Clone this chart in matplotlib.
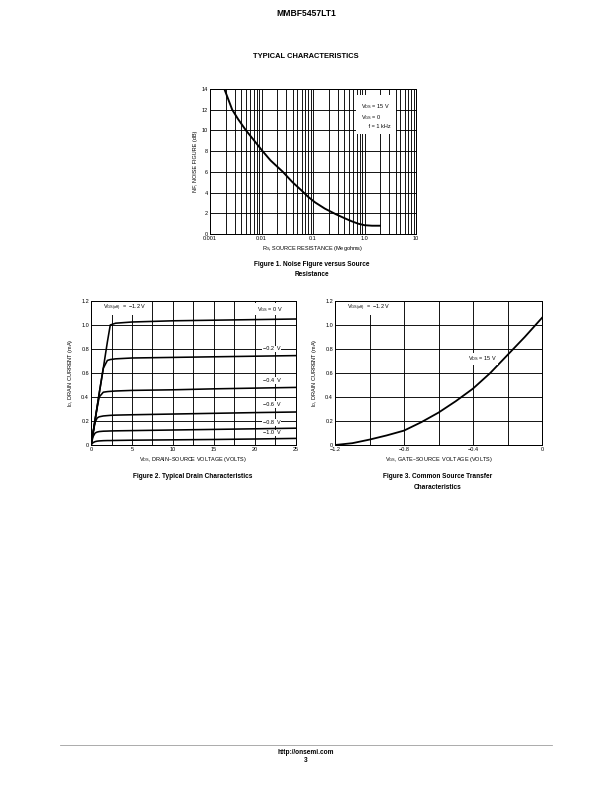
import numpy as np
import matplotlib.pyplot as plt
from matplotlib.ticker import MultipleLocator, FixedLocator, NullFormatter, FixedFormatter

plt.rcParams['font.family'] = ['Liberation Sans', 'DejaVu Sans']

# Figure 1 data: noise figure vs source resistance
rs = [0.0019, 0.0027, 0.0035, 0.005, 0.007, 0.0105, 0.015, 0.026, 0.04, 0.06,
      0.08, 0.11, 0.17, 0.28, 0.4, 0.55, 0.75, 1.0, 1.4, 2.0]
nf = [14.0, 12.0, 11.1, 10.0, 9.1, 8.0, 7.1, 6.0, 5.0, 4.2,
      3.6, 3.05, 2.45, 1.9, 1.55, 1.25, 1.0, 0.85, 0.8, 0.8]

# Figure 2 data: drain characteristics
vds = [0, 0.25, 0.5, 0.75, 1.0, 1.5, 2.0, 2.35, 3.0, 5, 10, 15, 20, 25]
id_curves = {
    '0':    [0, 0.10, 0.21, 0.32, 0.43, 0.64, 0.86, 1.00, 1.015, 1.025, 1.035, 1.04, 1.045, 1.05],
    '-0.2': [0, 0.10, 0.21, 0.32, 0.43, 0.64, 0.705, 0.712, 0.718, 0.725, 0.73, 0.735, 0.74, 0.745],
    '-0.4': [0, 0.10, 0.21, 0.31, 0.40, 0.44, 0.445, 0.447, 0.45, 0.455, 0.46, 0.468, 0.474, 0.48],
    '-0.6': [0, 0.10, 0.19, 0.225, 0.235, 0.242, 0.245, 0.247, 0.249, 0.252, 0.258, 0.264, 0.27, 0.275],
    '-0.8': [0, 0.07, 0.10, 0.108, 0.112, 0.115, 0.116, 0.117, 0.118, 0.12, 0.125, 0.13, 0.135, 0.14],
    '-1.0': [0, 0.02, 0.028, 0.032, 0.034, 0.036, 0.037, 0.037, 0.038, 0.04, 0.043, 0.046, 0.05, 0.055],
}
vgs_labels = ['\u22120.2  V', '\u22120.4  V', '\u22120.6  V', '\u22120.8  V', '\u22121.0  V']
vgs_label_y = [0.80, 0.535, 0.335, 0.19, 0.10]

# Figure 3 data: transfer characteristic
vgs = [-1.2, -1.1, -1.0, -0.9, -0.8, -0.7, -0.6, -0.5, -0.4, -0.3, -0.2, -0.1, 0.0]
id_t = [0.0, 0.015, 0.045, 0.08, 0.12, 0.19, 0.27, 0.365, 0.47, 0.6, 0.75, 0.9, 1.06]

fig = plt.figure(figsize=(8.5, 11), dpi=72)
W, H = 612, 792


def add_ax(l, t, r, b):
    return fig.add_axes([l / W, 1 - b / H, (r - l) / W, (b - t) / H])


def style(ax):
    for s in ax.spines.values():
        s.set_linewidth(1.0)
        s.set_color('black')
    ax.tick_params(which='both', length=0, labelsize=5.5, pad=2)
    ax.grid(True, which='both', color='black', lw=0.9)
    ax.set_axisbelow(True)


tx = dict(ha='center', va='center', fontweight='bold')
fig.text(306 / W, 1 - 14 / H, 'MMBF5457LT1', fontsize=8.5, **tx)
fig.text(306 / W, 1 - 57 / H, 'TYPICAL CHARACTERISTICS', fontsize=7.5, **tx)

# Figure 1
ax1 = add_ax(210, 89, 416, 234)
style(ax1)
ax1.set_xscale('log')
ax1.set_xlim(0.001, 10)
ax1.set_ylim(0, 14)
ax1.yaxis.set_major_locator(MultipleLocator(2))
ax1.xaxis.set_major_locator(FixedLocator([0.001, 0.01, 0.1, 1.0, 10]))
ax1.xaxis.set_major_formatter(FixedFormatter(['0.001', '0.01', '0.1', '1.0', '10']))
ax1.xaxis.set_minor_formatter(NullFormatter())
ax1.plot(rs, nf, color='black', lw=1.9)
ax1.text(0.735, 0.817, '$\\mathregular{V_{DS}}$ = 15 V\n$\\mathregular{V_{GS}}$ = 0\n     f = 1 kHz',
         transform=ax1.transAxes, ha='left', va='center', fontsize=5.5, linespacing=1.4,
         bbox=dict(fc='white', ec='none', pad=5))
ax1.set_xlabel('$\\mathregular{R_S}$, SOURCE RESISTANCE (Megohms)', fontsize=5.5, labelpad=3)
ax1.set_ylabel('NF, NOISE FIGURE (dB)', fontsize=5.5, labelpad=4)
fig.text(312 / W, 1 - 265 / H, 'Figure 1. Noise Figure versus Source', fontsize=6.5, **tx)
fig.text(312 / W, 1 - 275 / H, 'Resistance', fontsize=6.5, **tx)

# Figure 2
ax2 = add_ax(91, 301, 296, 445)
style(ax2)
ax2.set_xlim(0, 25)
ax2.set_ylim(0, 1.2)
ax2.xaxis.set_major_locator(FixedLocator([0, 5, 10, 15, 20, 25]))
ax2.xaxis.set_major_formatter(FixedFormatter(['0', '5', '10', '15', '20', '25']))
ax2.xaxis.set_minor_locator(FixedLocator([2.5, 7.5, 12.5, 17.5, 22.5]))
ax2.yaxis.set_major_locator(FixedLocator([0, 0.2, 0.4, 0.6, 0.8, 1.0, 1.2]))
ax2.yaxis.set_major_formatter(FixedFormatter(['0', '0.2', '0.4', '0.6', '0.8', '1.0', '1.2']))
for key, ids in id_curves.items():
    ax2.plot(vds, ids, color='black', lw=1.6)
for lab, yy in zip(vgs_labels, vgs_label_y):
    ax2.text(22.0, yy, lab, ha='center', va='center', fontsize=5.5,
             bbox=dict(fc='white', ec='none', pad=1))
ax2.text(1.5, 1.14, '$\\mathregular{V_{GS(off)}}$  =  \u22121.2 V', ha='left', va='center',
         fontsize=5.5, bbox=dict(fc='white', ec='none', pad=1.5))
ax2.text(21.8, 1.13, '$\\mathregular{V_{GS}}$ = 0 V', ha='center', va='center',
         fontsize=5.5, bbox=dict(fc='white', ec='none', pad=1.5))
ax2.set_xlabel('$\\mathregular{V_{DS}}$, DRAIN\u2013SOURCE VOLTAGE (VOLTS)', fontsize=5.5, labelpad=3)
ax2.set_ylabel('$\\mathregular{I_D}$, DRAIN CURRENT (mA)', fontsize=5.5, labelpad=6)
fig.text(193 / W, 1 - 476 / H, 'Figure 2. Typical Drain Characteristics', fontsize=6.5, **tx)

# Figure 3
ax3 = add_ax(335, 301, 542, 445)
style(ax3)
ax3.set_xlim(-1.2, 0)
ax3.set_ylim(0, 1.2)
ax3.xaxis.set_major_locator(FixedLocator([-1.2, -0.8, -0.4, 0]))
ax3.xaxis.set_major_formatter(FixedFormatter(['\u22121.2', '\u22120.8', '\u22120.4', '0']))
ax3.xaxis.set_minor_locator(FixedLocator([-1.0, -0.6, -0.2]))
ax3.yaxis.set_major_locator(FixedLocator([0, 0.2, 0.4, 0.6, 0.8, 1.0, 1.2]))
ax3.yaxis.set_major_formatter(FixedFormatter(['0', '0.2', '0.4', '0.6', '0.8', '1.0', '1.2']))
ax3.plot(vgs, id_t, color='black', lw=1.8)
ax3.text(-1.13, 1.14, '$\\mathregular{V_{GS(off)}}$  =  \u22121.2 V', ha='left', va='center',
         fontsize=5.5, bbox=dict(fc='white', ec='none', pad=1.5))
ax3.text(-0.43, 0.72, '$\\mathregular{V_{DS}}$ = 15 V', ha='left', va='center',
         fontsize=5.5, bbox=dict(fc='white', ec='none', pad=1.5))
ax3.set_xlabel('$\\mathregular{V_{GS}}$, GATE\u2013SOURCE  VOLTAGE (VOLTS)', fontsize=5.5, labelpad=3)
ax3.set_ylabel('$\\mathregular{I_D}$, DRAIN CURRENT (mA)', fontsize=5.5, labelpad=6)
fig.text(438 / W, 1 - 476 / H, 'Figure 3. Common Source Transfer', fontsize=6.5, **tx)
fig.text(438 / W, 1 - 487 / H, 'Characteristics', fontsize=6.5, **tx)

# footer
fig.add_artist(plt.Line2D([60 / W, 552 / W], [1 - 745 / H, 1 - 745 / H], color='#999999', lw=0.8))
fig.text(306 / W, 1 - 752 / H, 'http://onsemi.com', fontsize=6.5, **tx)
fig.text(306 / W, 1 - 761 / H, '3', fontsize=6.5, **tx)

fig.savefig('out.png', dpi=72)
